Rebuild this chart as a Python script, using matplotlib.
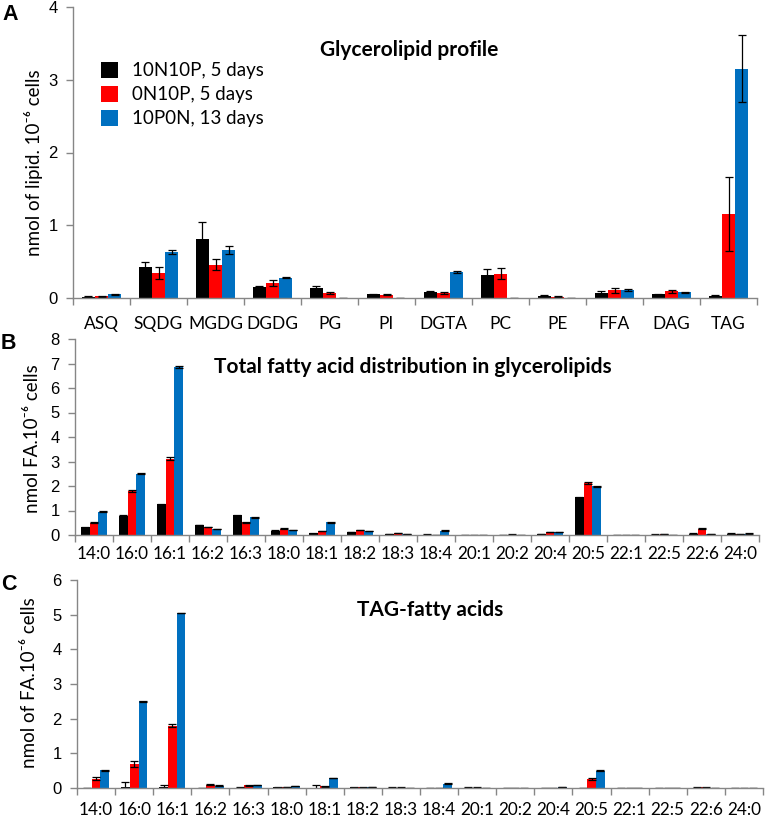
import numpy as np
import matplotlib
matplotlib.use("Agg")
import matplotlib.pyplot as plt

# ---- data ----
series = ["10N10P, 5 days", "0N10P, 5 days", "10P0N, 13 days"]
colors = ["#000000", "#FF0000", "#0070C0"]

lipids = ["ASQ", "SQDG", "MGDG", "DGDG", "PG", "PI", "DGTA", "PC", "PE", "FFA", "DAG", "TAG"]
lip_10n10p = [0.02, 0.42, 0.81, 0.15, 0.14, 0.05, 0.08, 0.32, 0.03, 0.07, 0.05, 0.03]
lip_0n10p = [0.025, 0.34, 0.46, 0.21, 0.07, 0.046, 0.07, 0.335, 0.02, 0.105, 0.09, 1.16]
lip_10p0n = [0.05, 0.63, 0.66, 0.28, 0.0, 0.0, 0.36, 0.0, 0.0, 0.105, 0.08, 3.15]
lip_err_10n10p = [0.005, 0.08, 0.24, 0.01, 0.03, 0.01, 0.01, 0.08, 0.005, 0.02, 0.005, 0.005]
lip_err_0n10p = [0.005, 0.08, 0.07, 0.04, 0.01, 0.01, 0.01, 0.08, 0.003, 0.035, 0.02, 0.51]
lip_err_10p0n = [0.01, 0.03, 0.06, 0.01, 0.0, 0.0, 0.01, 0.0, 0.0, 0.015, 0.005, 0.46]

fatty = ["14:0", "16:0", "16:1", "16:2", "16:3", "18:0", "18:1", "18:2", "18:3",
         "18:4", "20:1", "20:2", "20:4", "20:5", "22:1", "22:5", "22:6", "24:0"]
fa_10n10p = [0.31, 0.78, 1.25, 0.41, 0.80, 0.18, 0.07, 0.12, 0.04,
             0.02, 0.01, 0.01, 0.03, 1.54, 0.005, 0.02, 0.06, 0.06]
fa_0n10p = [0.50, 1.80, 3.12, 0.33, 0.52, 0.26, 0.16, 0.20, 0.08,
            0.01, 0.01, 0.02, 0.13, 2.11, 0.005, 0.04, 0.26, 0.05]
fa_10p0n = [0.95, 2.50, 6.85, 0.25, 0.72, 0.20, 0.53, 0.16, 0.05,
            0.18, 0.005, 0.005, 0.13, 1.99, 0.005, 0.01, 0.04, 0.06]
fa_err_10n10p = [0.01, 0.02, 0.02, 0.01, 0.02, 0.01, 0.01, 0.01, 0.005,
                 0.005, 0.002, 0.002, 0.005, 0.02, 0.002, 0.005, 0.01, 0.01]
fa_err_0n10p = [0.02, 0.03, 0.05, 0.01, 0.02, 0.01, 0.01, 0.01, 0.005,
                0.005, 0.002, 0.002, 0.01, 0.04, 0.002, 0.005, 0.02, 0.01]
fa_err_10p0n = [0.02, 0.03, 0.03, 0.01, 0.01, 0.01, 0.02, 0.01, 0.005,
                0.01, 0.002, 0.002, 0.01, 0.02, 0.002, 0.005, 0.01, 0.01]

tag_10n10p = [0.005, 0.03, 0.02, 0.0, 0.01, 0.02, 0.01, 0.02, 0.01,
              0.005, 0.01, 0.0, 0.0, 0.0, 0.0, 0.005, 0.01, 0.0]
tag_0n10p = [0.27, 0.70, 1.80, 0.10, 0.08, 0.03, 0.05, 0.02, 0.01,
             0.005, 0.01, 0.0, 0.005, 0.27, 0.0, 0.005, 0.02, 0.0]
tag_10p0n = [0.51, 2.50, 5.05, 0.07, 0.08, 0.06, 0.29, 0.02, 0.01,
             0.12, 0.0, 0.0, 0.02, 0.50, 0.0, 0.005, 0.01, 0.0]
tag_err_10n10p = [0.0, 0.15, 0.08, 0.0, 0.005, 0.01, 0.07, 0.01, 0.005,
                  0.0, 0.005, 0.0, 0.0, 0.0, 0.0, 0.0, 0.005, 0.0]
tag_err_0n10p = [0.05, 0.08, 0.04, 0.01, 0.01, 0.01, 0.02, 0.01, 0.005,
                 0.0, 0.005, 0.0, 0.0, 0.03, 0.0, 0.0, 0.01, 0.0]
tag_err_10p0n = [0.01, 0.01, 0.01, 0.005, 0.005, 0.005, 0.01, 0.005, 0.0,
                 0.01, 0.0, 0.0, 0.005, 0.01, 0.0, 0.0, 0.0, 0.0]

CAL = ["Lato", "DejaVu Sans"]
ARIAL = ["Liberation Sans", "DejaVu Sans"]
W, H = 765, 819
GRAY = "#868686"

fig = plt.figure(figsize=(W / 100, H / 100), dpi=100)


def px_axes(left, top, right, bottom):
    return fig.add_axes([left / W, 1 - bottom / H, (right - left) / W, (bottom - top) / H])


def draw_panel(ax, cats, vals, errs, ymax, label_pad, xsize):
    n = len(cats)
    x = np.arange(n)
    w = 0.23
    for i, (v, e) in enumerate(zip(vals, errs)):
        ax.bar(x + (i - 1) * w, v, width=w, color=colors[i], yerr=e, capsize=3,
               error_kw=dict(elinewidth=0.9, capthick=0.9, ecolor="black"),
               label=series[i], zorder=2)
    ax.set_xlim(-0.5, n - 0.5)
    ax.set_ylim(0, ymax)
    ax.set_yticks(range(ymax + 1))
    ax.set_xticks(x)
    ax.set_xticklabels(cats, fontfamily=CAL, fontsize=xsize)
    ax.set_xticks(np.arange(-0.5, n), minor=True)
    ax.tick_params(axis="x", which="major", length=0, pad=label_pad)
    ax.tick_params(axis="x", which="minor", length=5, direction="out", color=GRAY, width=1)
    ax.tick_params(axis="y", length=5, direction="out", color=GRAY, width=1, pad=6, labelsize=12)
    for t in ax.get_yticklabels():
        t.set_fontfamily(ARIAL)
    for s in ["top", "right"]:
        ax.spines[s].set_visible(False)
    for s in ["left", "bottom"]:
        ax.spines[s].set_color(GRAY)
        ax.spines[s].set_linewidth(1)


# Panel A
axA = px_axes(73, 7, 757, 298)
draw_panel(axA, lipids, [lip_10n10p, lip_0n10p, lip_10p0n],
           [lip_err_10n10p, lip_err_0n10p, lip_err_10p0n], 4, 13, 12.5)
axA.legend(loc="upper left", bbox_to_anchor=((101 - 73) / 684, (298 - 62) / 291),
           frameon=False, prop={"family": CAL, "size": 13.5}, handlelength=0.9,
           handleheight=0.9, handletextpad=0.75, labelspacing=0.36, borderpad=0, borderaxespad=0)

# Panel B
axB = px_axes(75, 339, 759, 535)
draw_panel(axB, fatty, [fa_10n10p, fa_0n10p, fa_10p0n],
           [fa_err_10n10p, fa_err_0n10p, fa_err_10p0n], 8, 8, 12.3)

# Panel C
axC = px_axes(77, 580, 763, 788)
draw_panel(axC, fatty, [tag_10n10p, tag_0n10p, tag_10p0n],
           [tag_err_10n10p, tag_err_0n10p, tag_err_10p0n], 6, 10, 12.3)


def ftext(x, y, s, **kw):
    fig.text(x / W, 1 - y / H, s, **kw)


# titles
ftext(409, 50, "Glycerolipid profile", ha="center", va="center", fontfamily=CAL,
      fontweight="bold", fontsize=15)
ftext(413, 367, "Total fatty acid distribution in glycerolipids", ha="center", va="center",
      fontfamily=CAL, fontweight="bold", fontsize=15)
ftext(430, 610, "TAG-fatty acids", ha="center", va="center", fontfamily=CAL,
      fontweight="bold", fontsize=15)

# y labels
ftext(34, 163, "nmol of lipid. 10⁻⁶ cells", rotation=90, ha="center", va="center",
      fontfamily=CAL, fontsize=13.5)
ftext(33, 439, "nmol FA.10⁻⁶ cells", rotation=90, ha="center", va="center",
      fontfamily=CAL, fontsize=13.5)
ftext(30, 683, "nmol of FA.10⁻⁶ cells", rotation=90, ha="center", va="center",
      fontfamily=CAL, fontsize=13.5)

# panel letters
ftext(10, 14, "A", ha="center", va="center", fontfamily=ARIAL, fontweight="bold", fontsize=15.5)
ftext(8, 343, "B", ha="center", va="center", fontfamily=ARIAL, fontweight="bold", fontsize=15.5)
ftext(9, 584, "C", ha="center", va="center", fontfamily=ARIAL, fontweight="bold", fontsize=15.5)

fig.savefig("out.png", dpi=100)
plt.close(fig)
